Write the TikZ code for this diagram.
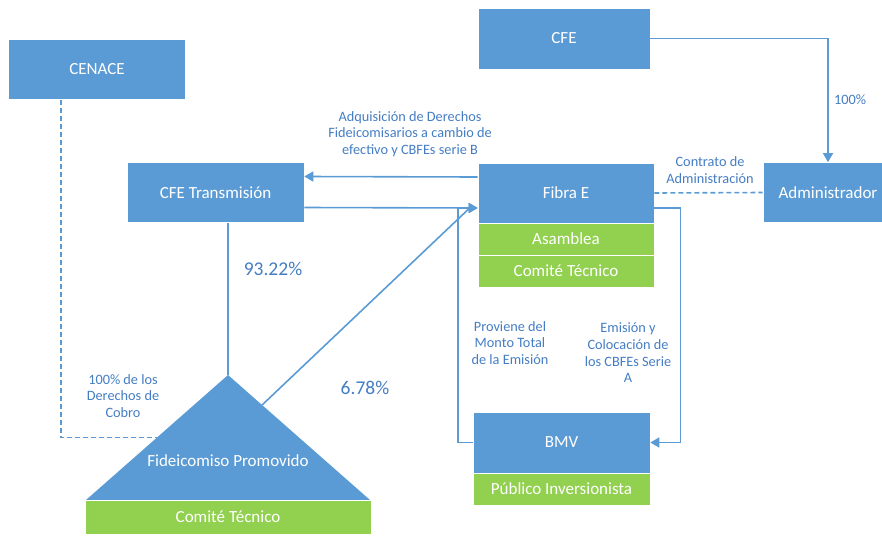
\documentclass[tikz,border=0pt]{standalone}
\usepackage{fontspec}
\setmainfont{Carlito}
\definecolor{fe_blue}{RGB}{91, 155, 213}
\definecolor{fe_green}{RGB}{146, 208, 80}
\definecolor{fe_text}{RGB}{68, 125, 195}
\usetikzlibrary{arrows.meta, calc}

\begin{document}
\begin{tikzpicture}[x=1pt, y=-1pt, font=\fontsize{17}{19}\selectfont,
      blk/.style={draw=white, line width=0.6pt, fill=fe_blue, text=white,
                  inner sep=0pt, minimum width=177pt, minimum height=60pt},
      grn/.style={blk, fill=fe_green, minimum height=32pt},
      lbl/.style={font=\fontsize{14.3}{16.7}\selectfont, text=fe_text, align=center},
      pct/.style={font=\fontsize{19.5}{21}\selectfont, text=fe_text},
      lnk/.style={line width=1.6pt, fe_blue},
      arr/.style={lnk, -{Triangle[length=9pt, width=10pt]}},
      dsh/.style={lnk, dash pattern=on 5pt off 3pt}]
      \useasboundingbox (0,0) rectangle (882,535);
      \node[blk] (cenace) at (97, 69.5) {CENACE};
      \node[blk, minimum width=172pt, minimum height=61pt] (cfe) at (564, 38.5) {CFE};
      \node[blk] (cfet)   at (215.5, 192.5) {CFE Transmisión};
      \node[blk, minimum width=176pt] (fibra)  at (566, 193) {Fibra E};
      \node[grn, minimum width=176pt] (asam)   at (566, 239) {Asamblea};
      \node[grn, minimum width=176pt] (comite) at (566, 271) {Comité Técnico};
      \node[blk, minimum width=130pt] (admin)  at (828, 192.5) {Administrador};
      \node[blk, minimum height=61pt] (bmv)    at (561.5, 442.5) {BMV};
      \node[grn] (publico) at (561.5, 489) {Público Inversionista};
      \coordinate (apex) at (228, 375);
      \coordinate (tl) at (86, 500);
      \coordinate (tr) at (370, 500);
      \fill[fe_blue] (apex) -- (tr) -- (tl) -- cycle;
      \node[text=white] (fide) at (228, 461) {Fideicomiso Promovido};
      \node[grn, minimum width=286pt, minimum height=34pt] (fcom) at (228, 517) {Comité Técnico};
      \coordinate (fl) at ($(apex)!0.5!(tl)$);
      \coordinate (fr) at ($(apex)!0.24!(tr)$);
      \coordinate (fin) at ([xshift=-8pt, yshift=-15pt]fibra.west);
      \draw[lnk] (cfet.south -| apex) -- (apex);
      \draw[arr] ([yshift=16pt]fibra.west) -- ([yshift=16pt]cfet.east);
      \draw[arr] ([yshift=-15pt]cfet.east) -- ([yshift=-15pt]fibra.west);
      \draw[lnk] (fr) -- (fin);
      \draw[arr] (bmv.west) -- ++(-15, 0) |- ([yshift=-15pt]fibra.west);
      \draw[arr] ([yshift=-15pt]fibra.east) -- ++(26, 0) |- (bmv.east);
      \draw[arr] (cfe.east) -| (admin.north);
      \draw[dsh] (fibra.east) -- (admin.west);
      \draw[dsh] ([xshift=-36pt]cenace.south) |- (fl);
      \node[lbl] (adq)  at (410, 134) {Adquisición de Derechos\\Fideicomisarios a cambio de\\efectivo y CBFEs serie B};
      \node[lbl] (ctr)  at (710, 170) {Contrato de\\Administración};
      \node[lbl] (cien) at (850, 100) {100\%};
      \node[pct] (p93)  at (273, 269) {93.22\%};
      \node[pct] (p67)  at (365, 388) {6.78\%};
      \node[lbl] (cob)  at (123, 396) {100\% de los\\Derechos de\\Cobro};
      \node[lbl] (prov) at (510, 343) {Proviene del\\Monto Total\\de la Emisión};
      \node[lbl] (emi)  at (628, 353) {Emisión y\\Colocación de\\los CBFEs Serie\\A};
    \end{tikzpicture}
\end{document}
